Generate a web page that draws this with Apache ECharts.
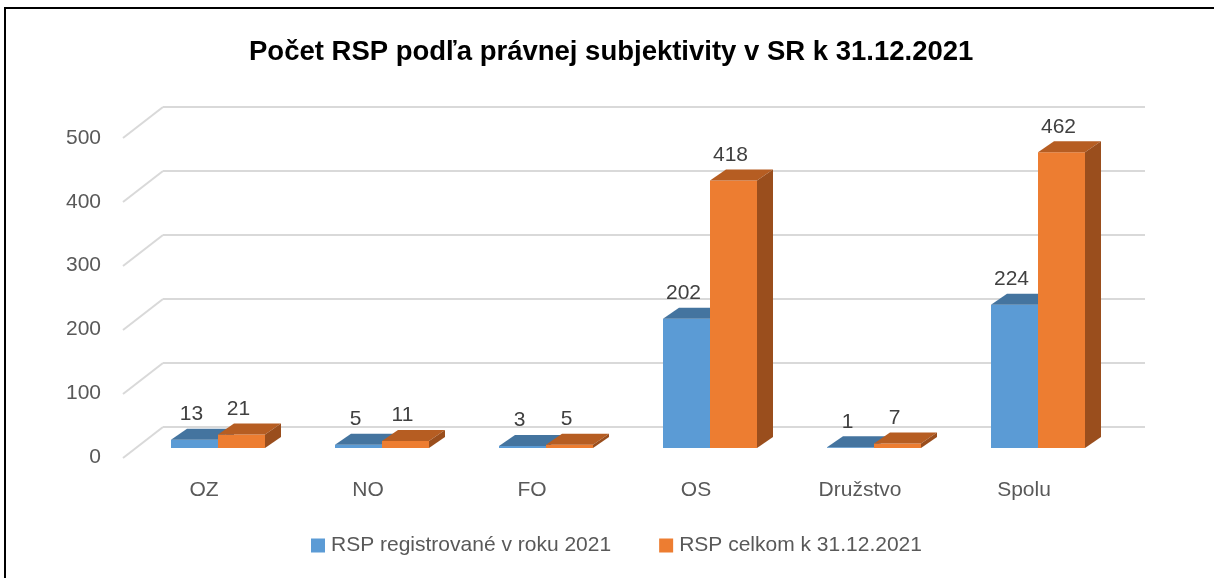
<!DOCTYPE html>
<html>
<head>
<meta charset="utf-8">
<script src="https://cdn.jsdelivr.net/npm/echarts@6/dist/echarts.min.js"></script>
<style>
  html, body { margin: 0; padding: 0; background: #fff; }
  #wrap { position: relative; width: 1214px; height: 578px; overflow: hidden; }
  #chart { width: 1214px; height: 578px; }
  #frame { position: absolute; left: 4px; top: 7px; width: 1300px; height: 700px;
           border-left: 2px solid #000; border-top: 2px solid #000; pointer-events: none; }
</style>
</head>
<body>
<div id="wrap"><div id="chart"></div><div id="frame"></div></div>
<script>
const categories = ['OZ', 'NO', 'FO', 'OS', 'Družstvo', 'Spolu'];
const registered2021 = [13, 5, 3, 202, 1, 224];
const total2021 = [21, 11, 5, 418, 7, 462];
const yTicks = [0, 100, 200, 300, 400, 500];
const seriesNames = ['RSP registrované v roku 2021', 'RSP celkom k 31.12.2021'];

const FONT = "'Liberation Sans', Arial, sans-serif";
const DEPTH_X = 16, DEPTH_Y = 11;       // bar depth (perspective)
const WALL_X = 40, WALL_Y = 31;         // floor depth (wall to front plane)
const BAR_FRAC = 47 / 164;              // bar width as fraction of category band

const palettes = [
  { front: '#5B9BD5', top: '#44749F', side: '#3A6591' },
  { front: '#ED7D31', top: '#B65D22', side: '#9A4E1D' }
];

function bar3D(seriesIdx) {
  return function (params, api) {
    const cat = api.value(0), val = api.value(1);
    const top = api.coord([cat, val]);
    const base = api.coord([cat, 0]);
    const bw = api.size([1, 0])[0] * BAR_FRAC;
    const x0 = seriesIdx === 0 ? top[0] - bw : top[0];
    const x1 = x0 + bw;
    const yt = top[1], yb = base[1];
    const pal = palettes[seriesIdx];
    const children = [
      { type: 'rect', shape: { x: x0, y: yt, width: bw, height: yb - yt },
        style: { fill: pal.front } },
      { type: 'polygon', shape: { points: [[x0, yt], [x1, yt], [x1 + DEPTH_X, yt - DEPTH_Y], [x0 + DEPTH_X, yt - DEPTH_Y]] },
        style: { fill: pal.top } },
      { type: 'polygon', shape: { points: [[x1, yt], [x1 + DEPTH_X, yt - DEPTH_Y], [x1 + DEPTH_X, yb - DEPTH_Y], [x1, yb]] },
        style: { fill: pal.side } },
      { type: 'text', style: { text: String(val), x: x0 + bw / 2 - 3, y: yt - DEPTH_Y - 4,
          textAlign: 'center', textVerticalAlign: 'bottom', fill: '#404040',
          font: '21px ' + FONT } }
    ];
    return { type: 'group', children: children };
  };
}

const chart = echarts.init(document.getElementById('chart'), null, { renderer: 'canvas' });
chart.setOption({
  animation: false,
  backgroundColor: '#fff',
  title: {
    text: 'Počet RSP podľa právnej subjektivity v SR k 31.12.2021',
    left: 244, top: 33,
    textStyle: { fontFamily: FONT, fontSize: 27.5, fontWeight: 'bold', color: '#000' }
  },
  legend: {
    data: seriesNames,
    bottom: 17, left: 306,
    icon: 'rect', itemWidth: 14, itemHeight: 14, itemGap: 48,
    textStyle: { fontFamily: FONT, fontSize: 21, color: '#595959', padding: [0, 0, 0, 1] }
  },
  grid: [
    { left: 136, right: 94, top: 128, bottom: 130 },  // bars (middle plane)
    { left: 163, right: 69, top: 107, bottom: 151 },  // back wall
    { left: 123, right: 94, top: 138, bottom: 121 }   // front plane (labels)
  ],
  xAxis: [
    { type: 'category', gridIndex: 0, data: categories,
      axisLine: { show: false }, axisTick: { show: false },
      axisLabel: { margin: 32, fontFamily: FONT, fontSize: 21, color: '#595959', padding: [0, 28, 0, 0] } },
    { type: 'value', gridIndex: 1, min: 0, max: 1, show: false },
    { type: 'value', gridIndex: 2, min: 0, max: 1, show: false }
  ],
  yAxis: [
    { type: 'value', gridIndex: 0, min: 0, max: 500, interval: 100, show: false },
    { type: 'value', gridIndex: 1, min: 0, max: 500, interval: 100,
      axisLine: { show: false }, axisTick: { show: false }, axisLabel: { show: false },
      splitLine: { show: true, lineStyle: { color: '#D9D9D9', width: 2 } } },
    { type: 'value', gridIndex: 2, min: 0, max: 500, interval: 100,
      axisLine: { show: false }, axisTick: { show: false }, splitLine: { show: false },
      axisLabel: { margin: 22, fontFamily: FONT, fontSize: 21, color: '#595959' } }
  ],
  series: [
    {
      type: 'custom', name: 'wall', xAxisIndex: 1, yAxisIndex: 1, silent: true,
      data: yTicks.map(v => [0, v]),
      renderItem: function (params, api) {
        const p = api.coord([0, api.value(1)]);
        return { type: 'line', shape: { x1: p[0], y1: p[1], x2: p[0] - WALL_X, y2: p[1] + WALL_Y },
                 style: { stroke: '#D9D9D9', lineWidth: 2 } };
      }
    },
    {
      type: 'custom', name: seriesNames[0], xAxisIndex: 0, yAxisIndex: 0,
      itemStyle: { color: palettes[0].front },
      data: registered2021.map((v, i) => [i, v]),
      renderItem: bar3D(0)
    },
    {
      type: 'custom', name: seriesNames[1], xAxisIndex: 0, yAxisIndex: 0,
      itemStyle: { color: palettes[1].front },
      data: total2021.map((v, i) => [i, v]),
      renderItem: bar3D(1)
    }
  ]
});
</script>
</body>
</html>
